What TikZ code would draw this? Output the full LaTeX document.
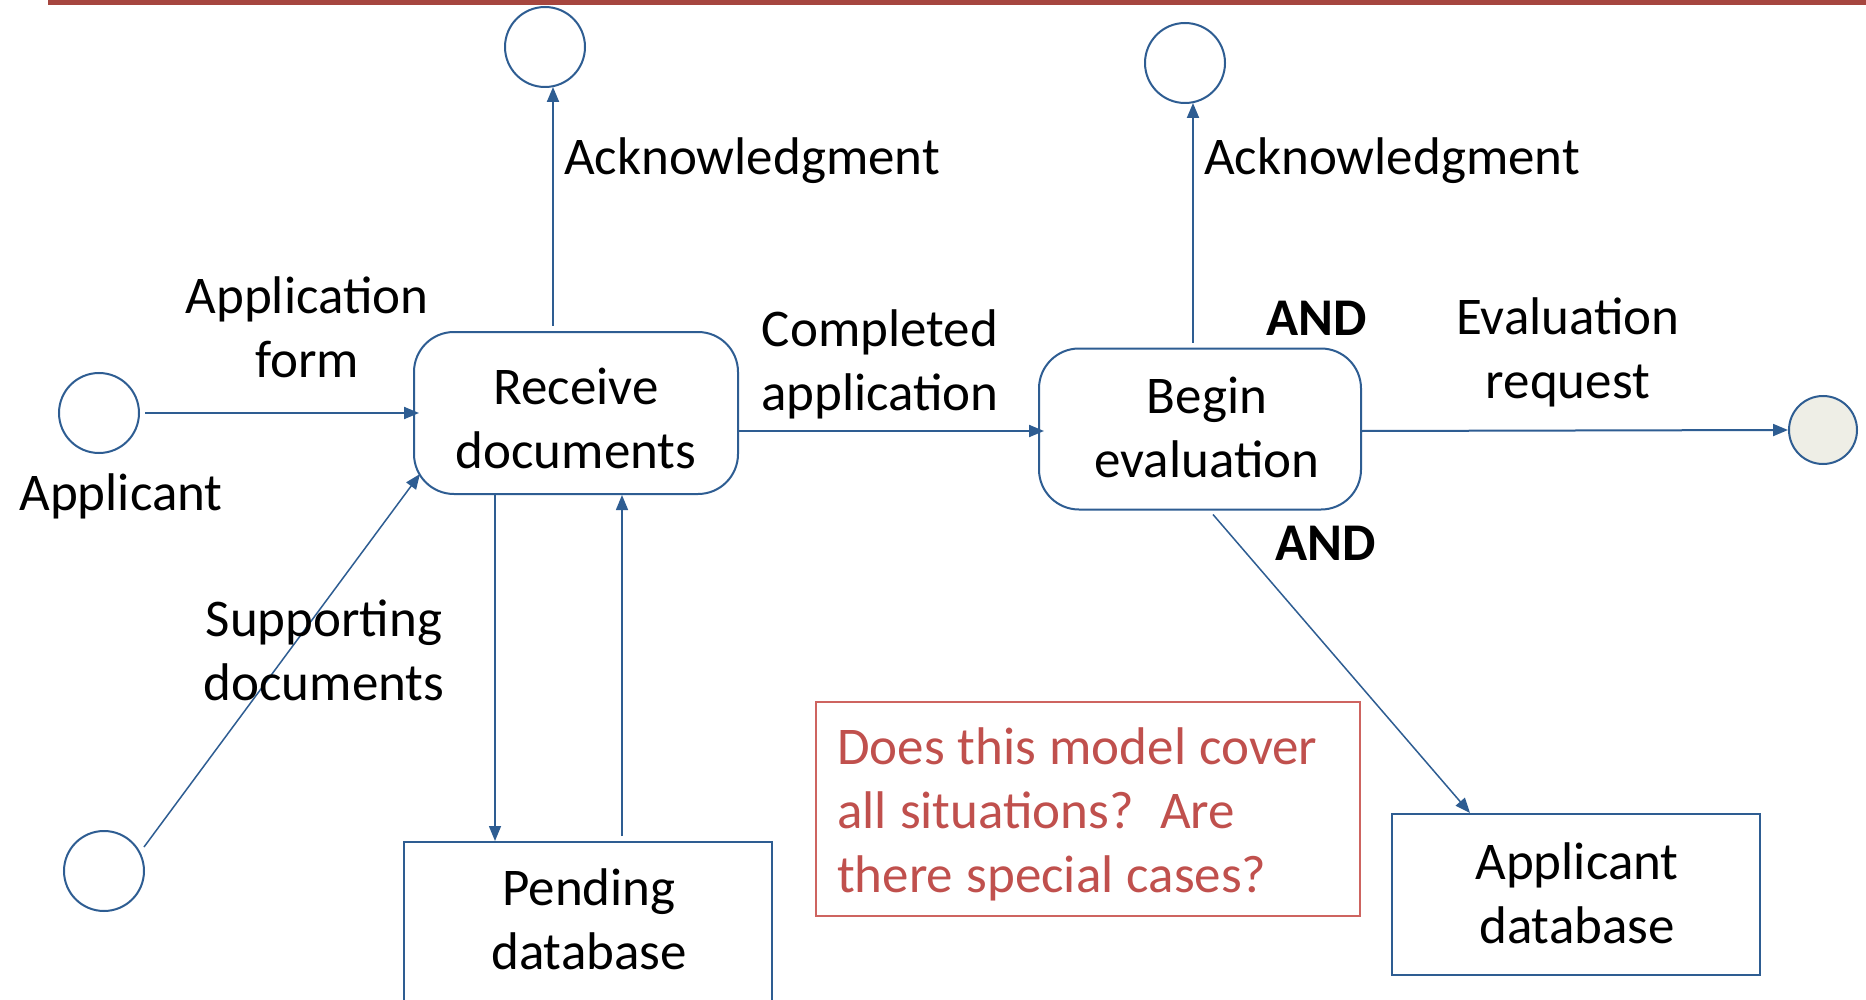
\documentclass[tikz,border=0pt]{standalone}
\usepackage{fontspec}
\setmainfont{Carlito}
\newfontfamily\notefont[WordSpace=1.1]{Carlito}
\usetikzlibrary{arrows.meta}
\definecolor{flowblue}{HTML}{2E5D92}
\definecolor{barred}{HTML}{A6463F}
\definecolor{notered}{HTML}{C0504D}
\definecolor{noteedge}{HTML}{CE6460}
\definecolor{sinkfill}{HTML}{EEEEE6}
\tikzset{
  lbl/.style={font=\fontsize{53}{64}\selectfont, align=center, inner sep=0pt},
  andlbl/.style={font=\fontsize{53}{64}\selectfont\bfseries, inner sep=0pt},
  term/.style={circle, draw=flowblue, line width=2pt, minimum size=80pt, inner sep=0pt},
  proc/.style={rectangle, rounded corners=40pt, draw=flowblue, line width=2pt,
    minimum width=324pt, minimum height=162pt, inner sep=0pt},
  store/.style={rectangle, draw=flowblue, line width=2pt, minimum width=368pt,
    minimum height=161pt, inner sep=0pt},
  flow/.style={draw=flowblue, line width=2pt, -{Triangle[length=15pt,width=12pt]}},
}
\begin{document}
\begin{tikzpicture}[x=1pt,y=-1pt]
\clip (0,0) rectangle (1866,1000);
\fill[white] (0,0) rectangle (1866,1000);
% header rule
\fill[barred] (48,0) rectangle (1866,5);

% terminators
\node[term] (ack1) at (545,47) {};
\node[term] (ack2) at (1185,63) {};
\node[term] (appl) at (99,413) {};
\node[term] (supp) at (104,871) {};
\node[term, fill=sinkfill, minimum size=68pt] (sink) at (1823,430) {};

% processes
\node[proc] (recv) at (576,413) {};
\node[lbl] (recvtxt) at (576,418) {Receive\\documents};
\node[proc, minimum width=322pt, minimum height=161pt] (begin) at (1200,429) {};
\node[lbl] (begintxt) at (1207,427) {Begin\\evaluation};

% data stores
\node[store, anchor=north, minimum height=200pt] (pend) at (588,841) {};
\node[lbl] (pendtxt) at (589,919) {Pending\\database};
\node[store] (appdb) at (1576,894.5) {};
\node[lbl] (appdbtxt) at (1577,893) {Applicant\\database};

% note
\node[rectangle, draw=noteedge, line width=1.5pt, minimum width=544pt,
      minimum height=214pt, inner sep=0pt] (note) at (1088,809) {};
\node[align=left, anchor=west, text=notered, inner sep=0pt,
      font=\fontsize{53}{64}\notefont\selectfont] (notetxt) at (837,814)
  {Does this model cover\\all situations?\ \ Are\\there special cases?};

% flows
\draw[flow] ([xshift=5pt]appl.east) -- ([xshift=6pt]recv.west);
\draw[flow] ([xshift=-23pt,yshift=5pt]recv.north) -- ([xshift=8pt,yshift=1pt]ack1.south);
\draw[flow] ([yshift=-18pt]recv.east) -- ([xshift=6pt,yshift=-2pt]begin.west);
\draw[flow] ([xshift=-7pt,yshift=5pt]begin.north) -- ([xshift=8pt,yshift=1pt]ack2.south);
\draw[flow] ([yshift=-2pt]begin.east) -- (sink.west);
\draw[flow, line width=1.5pt] ([xshift=13pt,yshift=-4pt]begin.south) -- ([xshift=-106pt]appdb.north);
\draw[flow, line width=1.5pt] ([xshift=-81pt]recv.south) -- ([xshift=-93pt]pend.north);
\draw[flow, line width=1.5pt] ([xshift=34pt,yshift=5pt]pend.north) -- ([xshift=46pt]recv.south);
\draw[flow, line width=1.5pt] ([xshift=40pt,yshift=24pt]supp.center) -- ([xshift=7pt,yshift=21pt]recv.south west);

% flow labels
\node[lbl] (lblack1) at (752,161) {Acknowledgment};
\node[lbl] (lblack2) at (1392,161) {Acknowledgment};
\node[lbl] (lblform) at (307,327) {Application\\form};
\node[lbl] (lblappl) at (121,496) {Applicant};
\node[lbl] (lblcomp) at (880,364) {Completed\\application};
\node[lbl] (lbleval) at (1568,352) {Evaluation\\request};
\node[lbl] (lblsupp) at (324,650) {Supporting\\documents};
\node[andlbl] (and1) at (1317,318) {AND};
\node[andlbl] (and2) at (1326,543) {AND};
\end{tikzpicture}
\end{document}
